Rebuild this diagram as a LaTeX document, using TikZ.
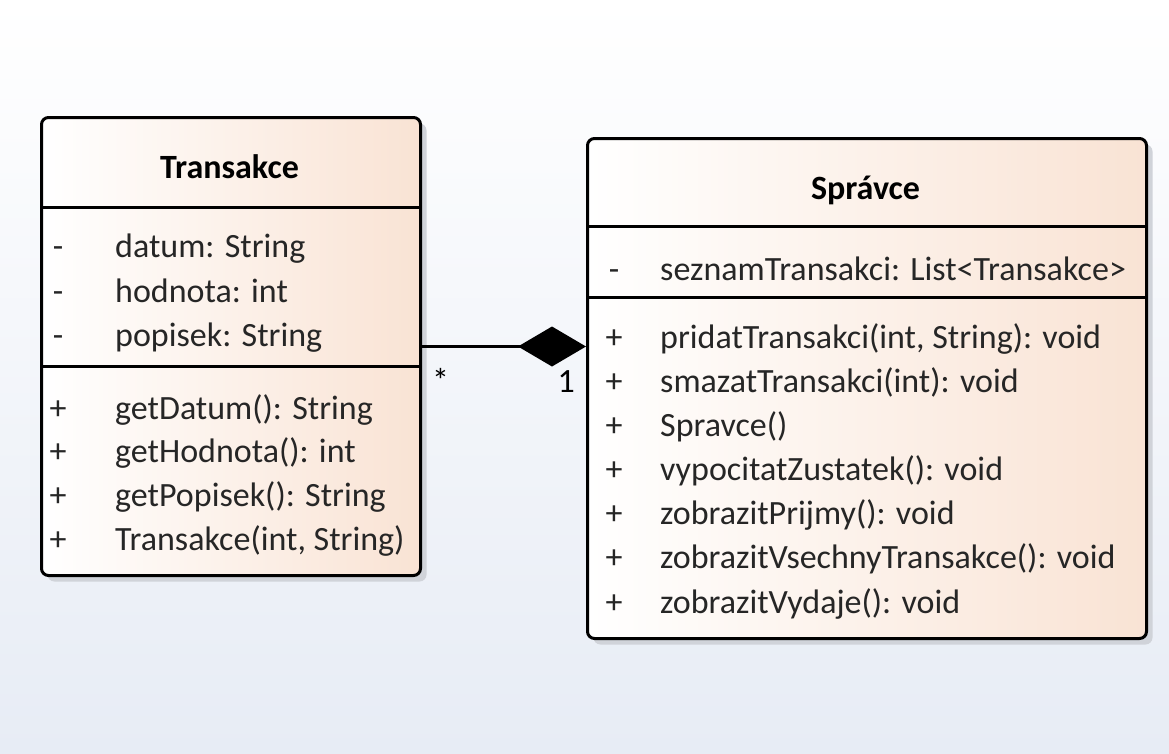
\documentclass[tikz,border=0pt]{standalone}
\usepackage{fontspec}
\setmainfont{Carlito}
\usetikzlibrary{positioning,arrows.meta,shadows}
\definecolor{peach}{RGB}{249,227,212}
\definecolor{bgblue}{RGB}{231,236,245}
\definecolor{shadowgray}{RGB}{208,211,217}
\tikzset{
  classbox/.style={
    rectangle,
    rounded corners=7pt,
    draw=black, line width=3pt,
    left color=white,
    right color=peach,
    inner sep=0pt,
    anchor=north west,
    drop shadow={shadow xshift=6pt, shadow yshift=-6pt, fill=shadowgray, opacity=1}},
  divider/.style={draw, line width=3pt},
  classname/.style={
    anchor=base, inner sep=0pt,
    font=\bfseries\fontsize{34}{40}\selectfont},
  member/.style={
    anchor=base west, inner sep=0pt, text=black!85,
    font=\fontsize{34}{40}\selectfont},
  sign/.style={member, anchor=base},
  composition/.style={draw, line width=3pt, -{Diamond[length=68pt, width=40pt]}},
  mult/.style={inner sep=0pt, font=\fontsize{34}{40}\selectfont},
}

\begin{document}
\begin{tikzpicture}[x=1pt, y=-1pt]
  \useasboundingbox (0,0) rectangle (1169,753);
  \shade[top color=white, bottom color=bgblue] (0,0) rectangle (1169,753);

  % class Transakce
  \node[classbox, minimum width=379pt, minimum height=458pt] (transakce) at (40,116) {};
  \draw[divider] (transakce.west |- 0,207) -- (transakce.east |- 0,207);
  \draw[divider] (transakce.west |- 0,366) -- (transakce.east |- 0,366);
  \node[classname] (transakce-name) at (229.5,178) {Transakce};
  \foreach \y/\s/\txt [count=\i] in {257/-/{datum: String},
                                      302/-/{hodnota: int},
                                      346/-/{popisek: String},
                                      419/+/{getDatum(): String},
                                      462/+/{getHodnota(): int},
                                      506/+/{getPopisek(): String},
                                      550/+/{Transakce(int, String)}}
  {
    \node[sign] (tsign-\i) at (58,\y) {\s};
    \node[member] (tmember-\i) at (115,\y) {\txt};
  }

  % class Spravce
  \node[classbox, minimum width=559pt, minimum height=500pt] (spravce) at (586,137) {};
  \draw[divider] (spravce.west |- 0,226) -- (spravce.east |- 0,226);
  \draw[divider] (spravce.west |- 0,297) -- (spravce.east |- 0,297);
  \node[classname] (spravce-name) at (865.5,199) {Správce};
  \foreach \y/\s/\txt [count=\i] in {280/-/{seznamTransakci: List<Transakce>},
                                      348/+/{pridatTransakci(int, String): void},
                                      392/+/{smazatTransakci(int): void},
                                      436/+/{Spravce()},
                                      480/+/{vypocitatZustatek(): void},
                                      524/+/{zobrazitPrijmy(): void},
                                      568/+/{zobrazitVsechnyTransakce(): void},
                                      613/+/{zobrazitVydaje(): void}}
  {
    \node[sign] (ssign-\i) at (614,\y) {\s};
    \node[member] (smember-\i) at (660,\y) {\txt};
  }

  % composition
  \draw[composition] (transakce.east) -- (transakce.east -| spravce.west);
  \node[mult, anchor=base west] (mult-many) at (432,392) {*};
  \node[mult, anchor=base east] (mult-one) at (575,392) {1};
\end{tikzpicture}
\end{document}
